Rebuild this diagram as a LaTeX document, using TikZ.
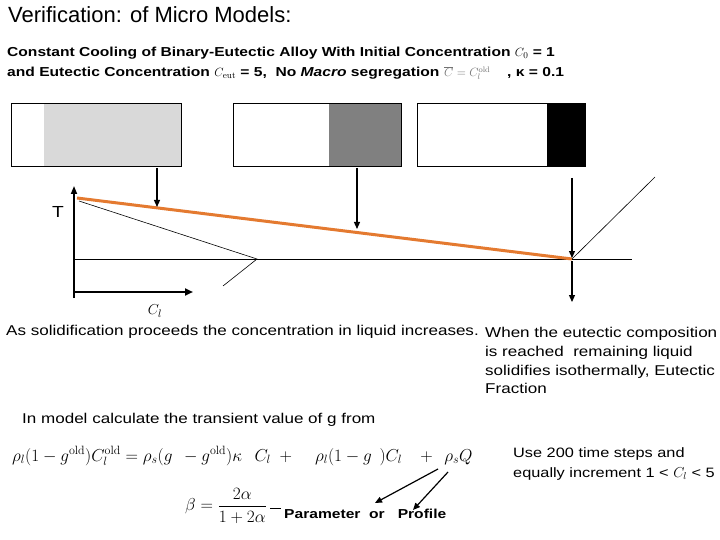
\documentclass[tikz,border=0pt]{standalone}
\usepackage[no-math]{fontspec}
\setmainfont[FakeStretch=1.2]{Liberation Sans}
\newfontfamily\titlefont{Liberation Sans}
\usetikzlibrary{arrows.meta}
\definecolor{orng}{RGB}{228,122,48}
\begin{document}
\begin{tikzpicture}[x=1pt,y=-1pt,
  box/.style={draw,line width=1pt,anchor=north west,inner sep=0pt},
  arr/.style={line width=1.2pt,-{Triangle[length=7pt,width=6pt]}},
  txt/.style={anchor=base west,inner sep=0pt,font=\fontsize{14.2}{16}\selectfont},
  btxt/.style={txt,font=\fontsize{13}{16}\selectfont\bfseries}]
\useasboundingbox (0,0) rectangle (720,540);
% title
\node[anchor=base west,inner sep=0pt,font=\titlefont\fontsize{22}{24}\selectfont] (title) at (8,23) {Verification: of Micro Models:};
\node[btxt] (l2) at (7,57) {Constant Cooling of Binary-Eutectic Alloy With Initial Concentration $C_0$ = 1};
\node[btxt] (l3) at (7,77) {and Eutectic Concentration $C_{\mathrm{eut}}$ = 5,\ \ No \textit{Macro} segregation};
\node[anchor=base west,inner sep=0pt,text=black!55,font=\fontsize{12}{14}\selectfont] (cbar) at (444,77) {$\overline{C}=C_l^{\mathrm{old}}$};
\node[btxt] (kap) at (507,77) {, κ = 0.1};
% boxes
\fill[gray!30] (44,103) rectangle (181,166);
\fill[gray] (329,103) rectangle (401,166);
\fill[black] (547,103) rectangle (585,166);
\node[box,minimum width=170pt,minimum height=63pt] (b1) at (11,103) {};
\node[box,minimum width=168pt,minimum height=63pt] (b2) at (233,103) {};
\node[box,minimum width=168pt,minimum height=63pt] (b3) at (417,103) {};
% axes
\coordinate (o) at (74,259);
\coordinate (ybot) at (74,298);
\coordinate (ytop) at (74,186);
\coordinate (xend) at (632,259);
\draw[line width=1.6pt,-{Triangle[length=8pt,width=6pt]}] (ybot) -- (ytop);
\draw[line width=1pt] (o) -- (xend);
\coordinate (hb1) at (74,292);
\coordinate (hb2) at (193,292);
\draw[line width=2.6pt,-{Triangle[length=8pt,width=7pt]}] (hb1) -- (hb2);
\node[inner sep=0pt,font=\fontsize{16}{18}\selectfont] (T) at (58,212) {T};
\node[inner sep=0pt,font=\fontsize{15}{17}\selectfont] (Cl) at (155,311) {$C_l$};
% liquidus lines
\coordinate (liq1) at (77,198);
\coordinate (eut) at (572,259);
\draw[orng,line width=3pt] (liq1) -- (eut);
\coordinate (sol1) at (79,201);
\coordinate (sol2) at (257,259);
\coordinate (sol3) at (223,286);
\draw[line width=0.6pt] (sol1) -- (sol2) -- (sol3);
\coordinate (rl) at (655,177);
\draw[line width=0.6pt] (eut) -- (rl);
% arrows from boxes
\coordinate (a1s) at (157,168);
\coordinate (a1e) at (157,207);
\coordinate (a2s) at (357,168);
\coordinate (a2e) at (357,229);
\coordinate (a3s) at (572,178);
\coordinate (a3e) at (572,258);
\coordinate (a4s) at (572,261);
\coordinate (a4e) at (572,302);
\draw[arr] (a1s) -- (a1e);
\draw[arr] (a2s) -- (a2e);
\draw[arr] (a3s) -- (a3e);
\draw[arr] (a4s) -- (a4e);
% texts
\node[txt] (t1) at (6,335) {As solidification proceeds the concentration in liquid increases.};
\node[txt] (t2) at (485,337) {When the eutectic composition};
\node[txt] (t3) at (485,356) {is reached\ \ remaining liquid};
\node[txt] (t4) at (485,375) {solidifies isothermally, Eutectic};
\node[txt] (t5) at (485,393) {Fraction};
\node[txt] (t6) at (22,423) {In model calculate the transient value of g from};
\node[anchor=base west,inner sep=0pt,font=\fontsize{17}{19}\selectfont] (eq) at (12,461)
 {$\rho_l(1-g^{\mathrm{old}})C_l^{\mathrm{old}} = \rho_s(g\;\,-g^{\mathrm{old}})\kappa\;\;\, C_l\;+\;\;\;\;\rho_l(1-g\;\,)C_l\;\;\;+\;\,\rho_s Q$};
\node[txt,font=\fontsize{13.6}{16}\selectfont] (u1) at (513,457) {Use 200 time steps and};
\node[txt,font=\fontsize{13.6}{16}\selectfont] (u2) at (513,477) {equally increment 1 < $C_l$ < 5};
\node[anchor=west,inner sep=0pt,font=\fontsize{16.5}{18}\selectfont] (beta) at (185,506) {$\beta=\displaystyle\frac{2\alpha}{1+2\alpha}$};
\coordinate (d1) at (270,508);
\coordinate (d2) at (281,508);
\draw[line width=0.8pt] (d1) -- (d2);
\node[btxt] (par) at (284,518) {Parameter\ \ or\ \ \ Profile};
\coordinate (q1) at (438,469);
\coordinate (q2) at (448,472);
\coordinate (p1) at (375,503);
\coordinate (p2) at (413,510);
\draw[arr] (q1) -- (p1);
\draw[arr] (q2) -- (p2);
\end{tikzpicture}
\end{document}
